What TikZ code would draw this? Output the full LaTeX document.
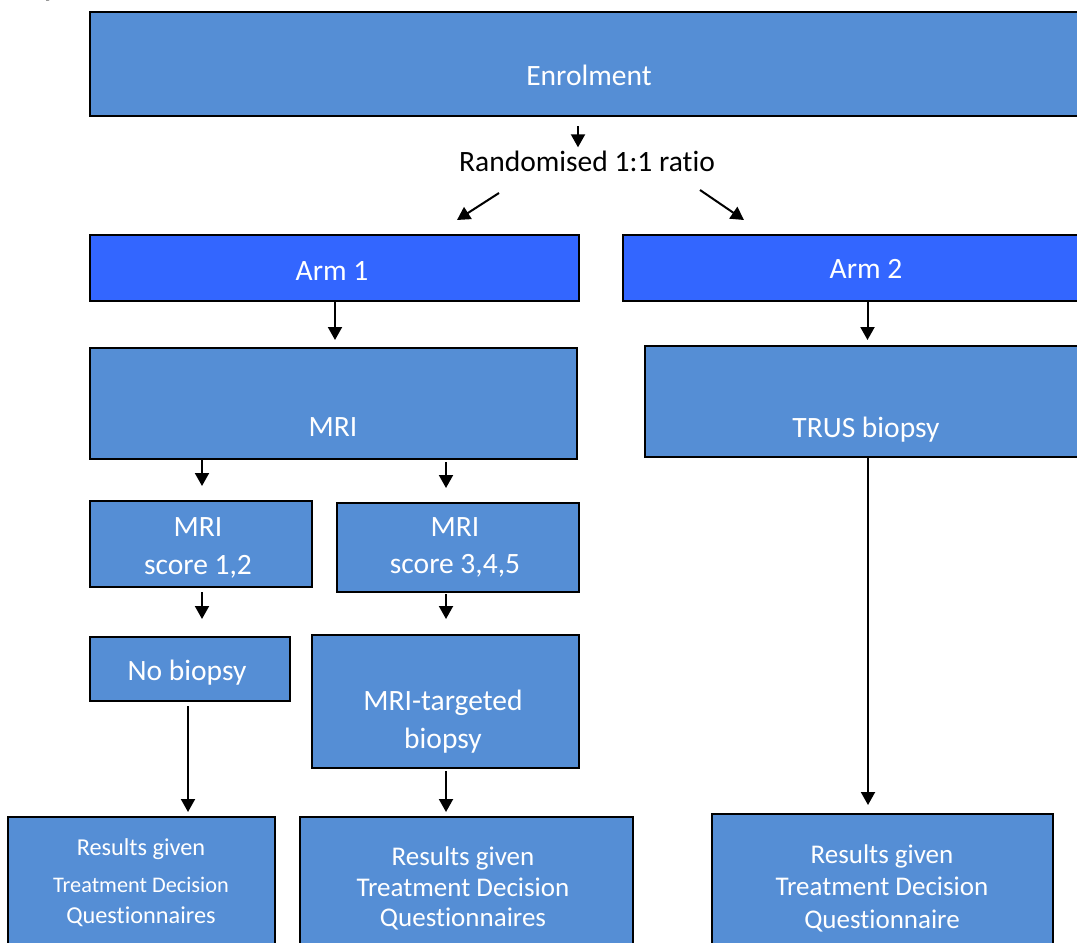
\documentclass[tikz,border=0pt]{standalone}
\usepackage{fontspec}
\setmainfont{Carlito}[Ligatures=NoCommon]
\usetikzlibrary{arrows.meta,fit}
\definecolor{boxblue}{HTML}{558ED5}
\definecolor{armblue}{HTML}{3366FF}
\begin{document}
\begin{tikzpicture}[x=1pt,y=-1pt,
  box/.style={draw=black, line width=2pt, fill=boxblue, inner sep=0pt},
  armbox/.style={box, fill=armblue},
  txt/.style={text=white, inner sep=0pt, anchor=base, font=\fontsize{29.5}{33}\selectfont},
  txtsm/.style={txt, font=\fontsize{#1}{#1}\selectfont},
  arr/.style={line width=2pt, -{Triangle[width=14pt,length=13pt]}},
]
\useasboundingbox (0,0) rectangle (1077,943);
\begin{scope}
\clip (0,0) rectangle (1077,943);

% heading tail above the chart
\node[anchor=base, inner sep=0pt, font=\bfseries\fontsize{28}{32}\selectfont] (head) at (50,-4) {y};

% boxes
\node[box, fit={(90,12) (1088,116)}] (enrol) {};
\node[armbox, fit={(90,235) (579,301)}] (arm1) {};
\node[armbox, fit={(623,235) (1109,301)}] (arm2) {};
\node[box, fit={(90,348) (577,459)}] (mri) {};
\node[box, fit={(645,346) (1090,457)}] (trus) {};
\node[box, fit={(90,501) (312,587)}] (s12) {};
\node[box, fit={(337,503) (579,592)}] (s345) {};
\node[box, fit={(90,637) (290,701)}] (nob) {};
\node[box, fit={(312,635) (579,768)}] (tgt) {};
\node[box, fit={(8,817) (275,960)}] (r1) {};
\node[box, fit={(300,817) (633,960)}] (r2) {};
\node[box, fit={(712,814) (1053,960)}] (r3) {};

% texts
\node[txt] (tenrol) at (589,85) {Enrolment};
\node[txt, text=black] (rand) at (587,171) {Randomised 1:1 ratio};
\node[txt] (tarm1) at (332,280) {Arm 1};
\node[txt] (tarm2) at (866,278) {Arm 2};
\node[txt] (tmri) at (333,436) {MRI};
\node[txt] (ttrus) at (866,437) {TRUS biopsy};
\node[txt] (ts12a) at (198,536) {MRI};
\node[txt] (ts12b) at (198,574) {score 1,2};
\node[txt] (ts345a) at (455,536) {MRI};
\node[txt] (ts345b) at (455,573) {score 3,4,5};
\node[txt] (tnob) at (187,680) {No biopsy};
\node[txt] (ttgta) at (443,710) {MRI-targeted};
\node[txt] (ttgtb) at (443,748) {biopsy};
\node[txtsm=24.3] (tr1a) at (141,855) {Results given};
\node[txtsm=22.3] (tr1b) at (141,892) {Treatment Decision};
\node[txtsm=24.3] (tr1c) at (141,923) {Questionnaires};
\node[txtsm=27] (tr2a) at (463,865) {Results given};
\node[txtsm=27] (tr2b) at (463,896) {Treatment Decision};
\node[txtsm=27] (tr2c) at (463,926) {Questionnaires};
\node[txtsm=27] (tr3a) at (882,863) {Results given};
\node[txtsm=27] (tr3b) at (882,895) {Treatment Decision};
\node[txtsm=27] (tr3c) at (882,928) {Questionnaire};

% randomisation arrows
\coordinate (l1) at (499,193);
\coordinate (l2) at (457,220);
\coordinate (r1s) at (700,190);
\coordinate (r2s) at (744,220);
\draw[arr, shorten <=9pt, shorten >=3pt] (enrol.south -| 578,0) -- (rand.north -| 578,0);
\draw[arr] (l1) -- (l2);
\draw[arr] (r1s) -- (r2s);

% flow arrows
\draw[arr, shorten >=7pt] (arm1.south -| 335,0) -- (mri.north -| 335,0);
\draw[arr, shorten >=5pt] (arm2.south -| trus) -- (trus.north);
\draw[arr, shorten >=14pt] (mri.south -| 202,0) -- (s12.north -| 202,0);
\draw[arr, shorten <=2pt, shorten >=14pt] (mri.south -| 446,0) -- (s345.north -| 446,0);
\draw[arr, shorten <=4pt, shorten >=17pt] (s12.south -| 202,0) -- (nob.north -| 202,0);
\draw[arr, shorten <=1pt, shorten >=15pt] (s345.south -| 446,0) -- (tgt.north -| 446,0);
\draw[arr, shorten <=4pt, shorten >=4pt] (nob.south -| 188,0) -- (r1.north -| 188,0);
\draw[arr, shorten <=2pt, shorten >=4pt] (tgt.south -| 446,0) -- (r2.north -| 446,0);
\draw[arr, shorten >=8pt] (trus.south -| 868,0) -- (r3.north -| 868,0);
\end{scope}
\end{tikzpicture}
\end{document}
